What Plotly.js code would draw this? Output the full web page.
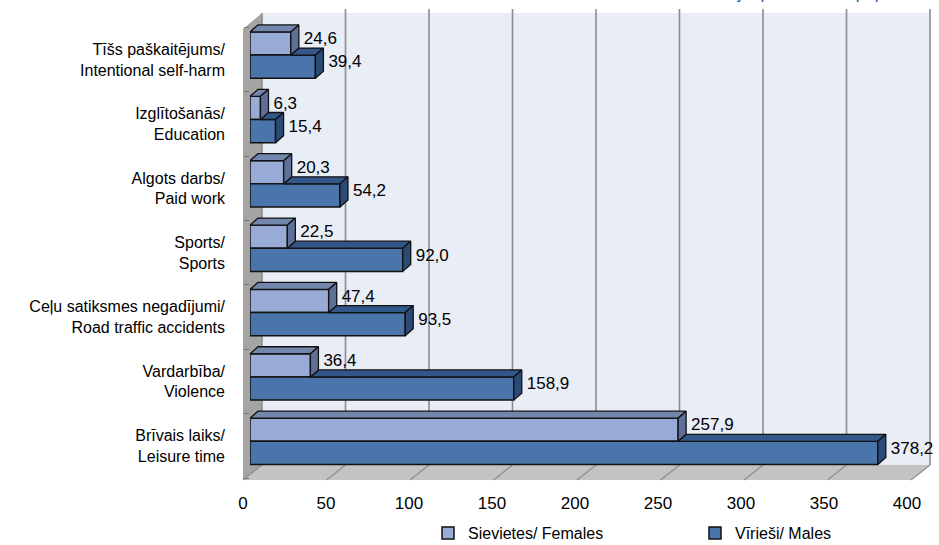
<!DOCTYPE html>
<html><head><meta charset="utf-8">
<script src="https://cdn.plot.ly/plotly-3.0.1.min.js"></script>
<style>html,body{margin:0;padding:0;background:#fff}#chart{width:939px;height:545px}</style>
</head><body><div id="chart"></div>
<script>
// ---- data (bottom to top) ----
const categories = [
  "Brīvais laiks/<br>Leisure time",
  "Vardarbība/<br>Violence",
  "Ceļu satiksmes negadījumi/<br>Road traffic accidents",
  "Sports/<br>Sports",
  "Algots darbs/<br>Paid work",
  "Izglītošanās/<br>Education",
  "Tīšs paškaitējums/<br>Intentional self-harm"
];
const females = [257.9, 36.4, 47.4, 22.5, 20.3, 6.3, 24.6];
const males   = [378.2, 158.9, 93.5, 92.0, 54.2, 15.4, 39.4];
const xTicks  = [0, 50, 100, 150, 200, 250, 300, 350, 400];
const seriesNames = ["Sievietes/ Females", "Vīrieši/ Males"];

// ---- geometry / style ----
const L = 250, R = 914, T = 21, B = 478;
const pxPerUnit = (R - L) / 400;
const X = px => (px - L) / (R - L);
const Y = py => (B - py) / (B - T);
const FONT = '"Liberation Sans Narrow","Arial Narrow","Liberation Sans",Arial,sans-serif';
const barW = 0.36, offF = 0.25, offM = -0.11;
const dx = 8 / pxPerUnit;            // bar depth in x units
const dy = 7 / ((B - T) / 7.1);      // bar depth in y units
const colF = '#98abd6', colM = '#4a75aa';
const yIdx = categories.map((c, i) => i);

function fmt(v){ return v.toFixed(1).replace('.', ','); }

function faces(vals, centers, startVals){
  const top = {x: [], y: []}, side = {x: [], y: []};
  vals.forEach((v, i) => {
    const t = centers[i] + barW / 2, b = centers[i] - barW / 2;
    const s = startVals ? Math.min(startVals[i], v) : 0;
    top.x.push(s, v, v + dx, s + dx, s, null);
    top.y.push(t, t, t + dy, t + dy, t, null);
    side.x.push(v, v, v + dx, v + dx, v, null);
    side.y.push(b, t, t + dy, b + dy, b, null);
  });
  return {top, side};
}
const cF = yIdx.map(i => i + offF), cM = yIdx.map(i => i + offM);
const fF = faces(females, cF, null);
const fM = faces(males, cM, females);

function faceTrace(d, color){
  return {type: 'scatter', mode: 'lines', x: d.x, y: d.y, fill: 'toself', fillcolor: color,
    line: {color: '#111', width: 1.3}, hoverinfo: 'skip', showlegend: false};
}

const data = [
  {type: 'bar', orientation: 'h', name: seriesNames[0], x: females, y: cF, width: barW,
   marker: {color: colF, line: {color: '#111', width: 1.5}}, hoverinfo: 'x'},
  {type: 'bar', orientation: 'h', name: seriesNames[1], x: males, y: cM, width: barW,
   marker: {color: colM, line: {color: '#111', width: 1.5}}, hoverinfo: 'x'},
  faceTrace(fM.top, '#33578a'),
  faceTrace(fM.side, '#2c4a76'),
  faceTrace(fF.top, '#7386ae'),
  faceTrace(fF.side, '#5e7098'),
  {type: 'scatter', mode: 'text', x: females.map(v => v + dx + 3), y: cF.map(c => c + dy / 2),
   text: females.map(fmt), textposition: 'middle right', cliponaxis: false,
   textfont: {family: FONT, size: 17, color: '#000'}, showlegend: false, hoverinfo: 'skip'},
  {type: 'scatter', mode: 'text', x: males.map(v => v + dx + 3), y: cM.map(c => c + dy / 2),
   text: males.map(fmt), textposition: 'middle right', cliponaxis: false,
   textfont: {family: FONT, size: 17, color: '#000'}, showlegend: false, hoverinfo: 'skip'}
];

const shapes = [];
shapes.push({type: 'rect', xref: 'paper', yref: 'paper', x0: X(262), x1: X(930), y0: Y(465), y1: Y(13),
  fillcolor: '#e9edf6', line: {width: 0}, layer: 'below'});
shapes.push({type: 'path', xref: 'paper', yref: 'paper', layer: 'below',
  path: `M${X(243)},${Y(480)} L${X(243)},${Y(29)} L${X(262)},${Y(13)} L${X(262)},${Y(465)} Z`,
  fillcolor: '#a4a4a4', line: {width: 0}});
shapes.push({type: 'path', xref: 'paper', yref: 'paper', layer: 'below',
  path: `M${X(243)},${Y(480)} L${X(262)},${Y(465)} L${X(930)},${Y(465)} L${X(911)},${Y(480)} Z`,
  fillcolor: '#c3c3c3', line: {width: 0}});
const backScale = (930 - 262) / 400;
xTicks.forEach(v => {
  const bx = 262 + v * backScale, fx = 243 + v * backScale;
  shapes.push({type: 'line', xref: 'paper', yref: 'paper', layer: 'below',
    x0: X(bx), x1: X(bx), y0: Y(465), y1: Y(v === 0 ? 13 : 9), line: {color: '#8c8c8c', width: 1.6}});
  shapes.push({type: 'line', xref: 'paper', yref: 'paper', layer: 'below',
    x0: X(bx), x1: X(fx), y0: Y(465), y1: Y(480), line: {color: '#8c8c8c', width: 1.2}});
});

const layout = {
  width: 939, height: 545,
  margin: {l: L, r: 939 - R, t: T, b: 545 - B, pad: 0, autoexpand: false},
  paper_bgcolor: '#fff', plot_bgcolor: 'rgba(0,0,0,0)',
  separators: ', ',
  barmode: 'overlay',
  showlegend: true,
  font: {family: FONT, size: 16, color: '#000'},
  xaxis: {range: [0, 400], tickvals: xTicks, ticktext: xTicks.map(String), showgrid: false, zeroline: false,
    showline: false, ticks: '', ticklabelstandoff: 13, ticklabelshift: -7,
    tickfont: {family: FONT, size: 17, color: '#000'}, fixedrange: true},
  yaxis: {range: [-0.5, 6.6], tickvals: yIdx, ticktext: categories, showgrid: false, zeroline: false,
    showline: false, ticks: '', ticklabelstandoff: 24,
    tickfont: {family: FONT, size: 16, color: '#000'},
    minor: {tickvals: [-0.5, 0.5, 1.5, 2.5, 3.5, 4.5, 5.5, 6.5], ticks: 'outside', ticklen: 5, tickcolor: '#777', showgrid: false},
    fixedrange: true},
  legend: {orientation: 'h', x: X(428), xanchor: 'left', y: Y(516), yanchor: 'top',
    font: {family: FONT, size: 16, color: '#000'}, entrywidth: 222, entrywidthmode: 'pixels',
    itemwidth: 30, bgcolor: 'rgba(0,0,0,0)', traceorder: 'normal'},
  shapes: shapes,
  annotations: [{xref: 'paper', yref: 'paper', x: X(936), y: Y(5), xanchor: 'right', yanchor: 'bottom',
    text: 'Uz 100 000 iedzīvotāju/ per 100 000 population', showarrow: false,
    font: {family: FONT, size: 17, color: '#1f5aa6'}}]
};

Plotly.newPlot('chart', data, layout, {displayModeBar: false, staticPlot: true});
</script></body></html>
